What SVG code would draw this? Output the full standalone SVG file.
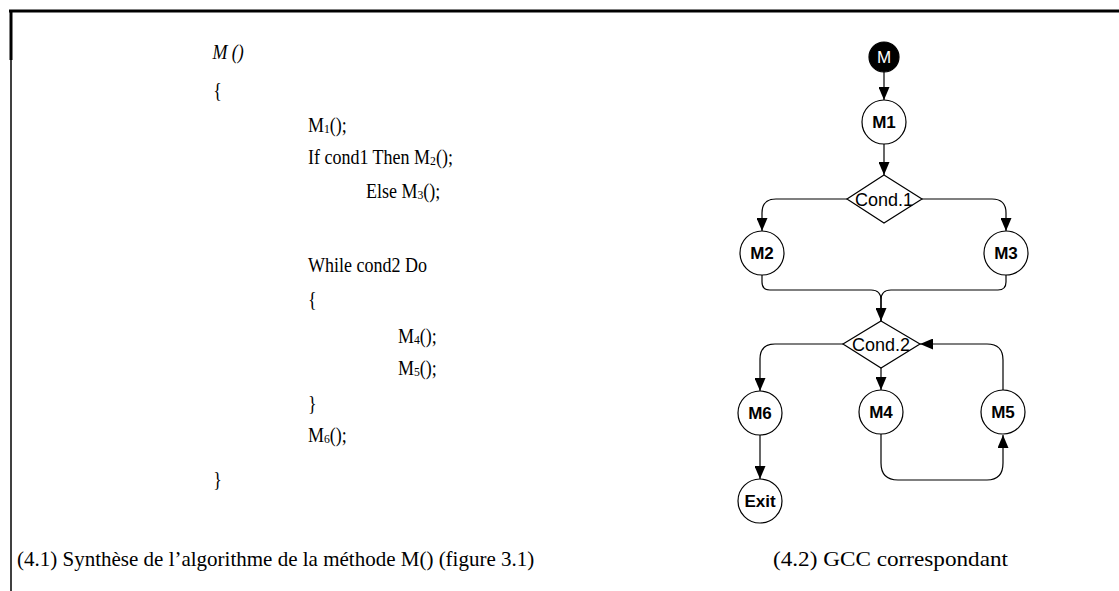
<svg xmlns="http://www.w3.org/2000/svg" width="1119" height="591" viewBox="0 0 1119 591">
<style>
.code{font-family:"Liberation Serif","Times New Roman",serif;font-size:20px;fill:#000}
.cap{font-family:"Liberation Serif","Times New Roman",serif;font-size:21px;fill:#000}
.node circle{fill:#fff;stroke:#000;stroke-width:1.2}
.node polygon{fill:#fff;stroke:#000;stroke-width:1.2}
.lbl{font-family:"Liberation Sans",Arial,sans-serif;font-size:17px;font-weight:bold;text-anchor:middle;fill:#000}
.dlbl{font-family:"Liberation Sans",Arial,sans-serif;font-size:18px;text-anchor:middle;fill:#000}
.conn path{fill:none;stroke:#000;stroke-width:1.2}
</style>
<defs>
<marker id="arr" markerUnits="userSpaceOnUse" markerWidth="13" markerHeight="11" refX="13" refY="5.5" orient="auto">
<path d="M0,0 L13,5.5 L0,11 z" fill="#000"/>
</marker>
</defs>
<rect width="1119" height="591" fill="#fff"/>
<g id="frame">
<line x1="9" y1="11" x2="1119" y2="11" stroke="#000" stroke-width="3"/>
<line x1="11" y1="10" x2="11" y2="60" stroke="#000" stroke-width="3"/>
<line x1="11" y1="60" x2="11" y2="591" stroke="#000" stroke-width="1.5"/>
</g>
<g id="code" transform="scale(0.9,1)">
<text class="code" x="236" y="59" font-style="italic">M ()</text>
<text class="code" x="237" y="97">{</text>
<text class="code" x="342.2" y="132">M<tspan font-size="13" dy="1">1</tspan><tspan dy="-1">();</tspan></text>
<text class="code" x="342.2" y="164">If cond1 Then M<tspan font-size="13" dy="1">2</tspan><tspan dy="-1">();</tspan></text>
<text class="code" x="406.7" y="198">Else  M<tspan font-size="13" dy="1">3</tspan><tspan dy="-1">();</tspan></text>
<text class="code" x="342.2" y="272">While  cond2  Do</text>
<text class="code" x="342.2" y="306">{</text>
<text class="code" x="442.2" y="343">M<tspan font-size="13" dy="1">4</tspan><tspan dy="-1">();</tspan></text>
<text class="code" x="442.2" y="375">M<tspan font-size="13" dy="1">5</tspan><tspan dy="-1">();</tspan></text>
<text class="code" x="342.2" y="410">}</text>
<text class="code" x="342.2" y="442">M<tspan font-size="13" dy="1">6</tspan><tspan dy="-1">();</tspan></text>
<text class="code" x="237" y="486">}</text>
</g>
<g id="captions">
<text class="cap" x="17" y="566">(4.1) Synthèse de l’algorithme de la  méthode M() (figure 3.1)</text>
<text class="cap" x="773" y="566" textLength="235" lengthAdjust="spacingAndGlyphs">(4.2) GCC correspondant</text>
</g>
<g class="conn" id="connectors">
<path d="M884,72 V100" marker-end="url(#arr)"/>
<path d="M884,144 V175" marker-end="url(#arr)"/>
<path d="M847,199 H776 Q762,199 762,213 V231" marker-end="url(#arr)"/>
<path d="M922,199 H992 Q1006,199 1006,213 V231" marker-end="url(#arr)"/>
<path d="M762,275 V282 Q762,290 770,290 H871 Q881,290 881,300 V321" marker-end="url(#arr)"/>
<path d="M1006,275 V282 Q1006,290 998,290 H891 Q881,290 881,300 V321"/>
<path d="M843,344 H775 Q760,344 760,359 V391" marker-end="url(#arr)"/>
<path d="M881,368 V390" marker-end="url(#arr)"/>
<path d="M881,434 V463 Q881,480 898,480 H987 Q1003,480 1003,463 V435" marker-end="url(#arr)"/>
<path d="M1003,390 V360 Q1003,344 987,344 H920" marker-end="url(#arr)"/>
<path d="M760,435 V479" marker-end="url(#arr)"/>
</g>
<g class="node" id="node-M">
<circle cx="884" cy="57" r="15" style="fill:#000"/>
<text class="dlbl" x="884" y="63" style="fill:#fff;font-size:17px">M</text>
</g>
<g class="node" id="node-M1"><circle cx="884" cy="122" r="22"/><text class="lbl" x="884" y="128">M1</text></g>
<g class="node" id="node-Cond1"><polygon points="884,175 922,199 884,223 847,199"/><text class="dlbl" x="884" y="205.5">Cond.1</text></g>
<g class="node" id="node-M2"><circle cx="762" cy="253" r="22"/><text class="lbl" x="762" y="259">M2</text></g>
<g class="node" id="node-M3"><circle cx="1006" cy="253" r="22"/><text class="lbl" x="1006" y="259">M3</text></g>
<g class="node" id="node-Cond2"><polygon points="881,321 920,344 881,368 843,344"/><text class="dlbl" x="881" y="350.5">Cond.2</text></g>
<g class="node" id="node-M6"><circle cx="760" cy="413" r="22"/><text class="lbl" x="760" y="419">M6</text></g>
<g class="node" id="node-M4"><circle cx="881" cy="412" r="22"/><text class="lbl" x="881" y="418">M4</text></g>
<g class="node" id="node-M5"><circle cx="1003" cy="412" r="22"/><text class="lbl" x="1003" y="418">M5</text></g>
<g class="node" id="node-Exit"><circle cx="760" cy="501" r="22"/><text class="lbl" x="760" y="507">Exit</text></g>
</svg>
